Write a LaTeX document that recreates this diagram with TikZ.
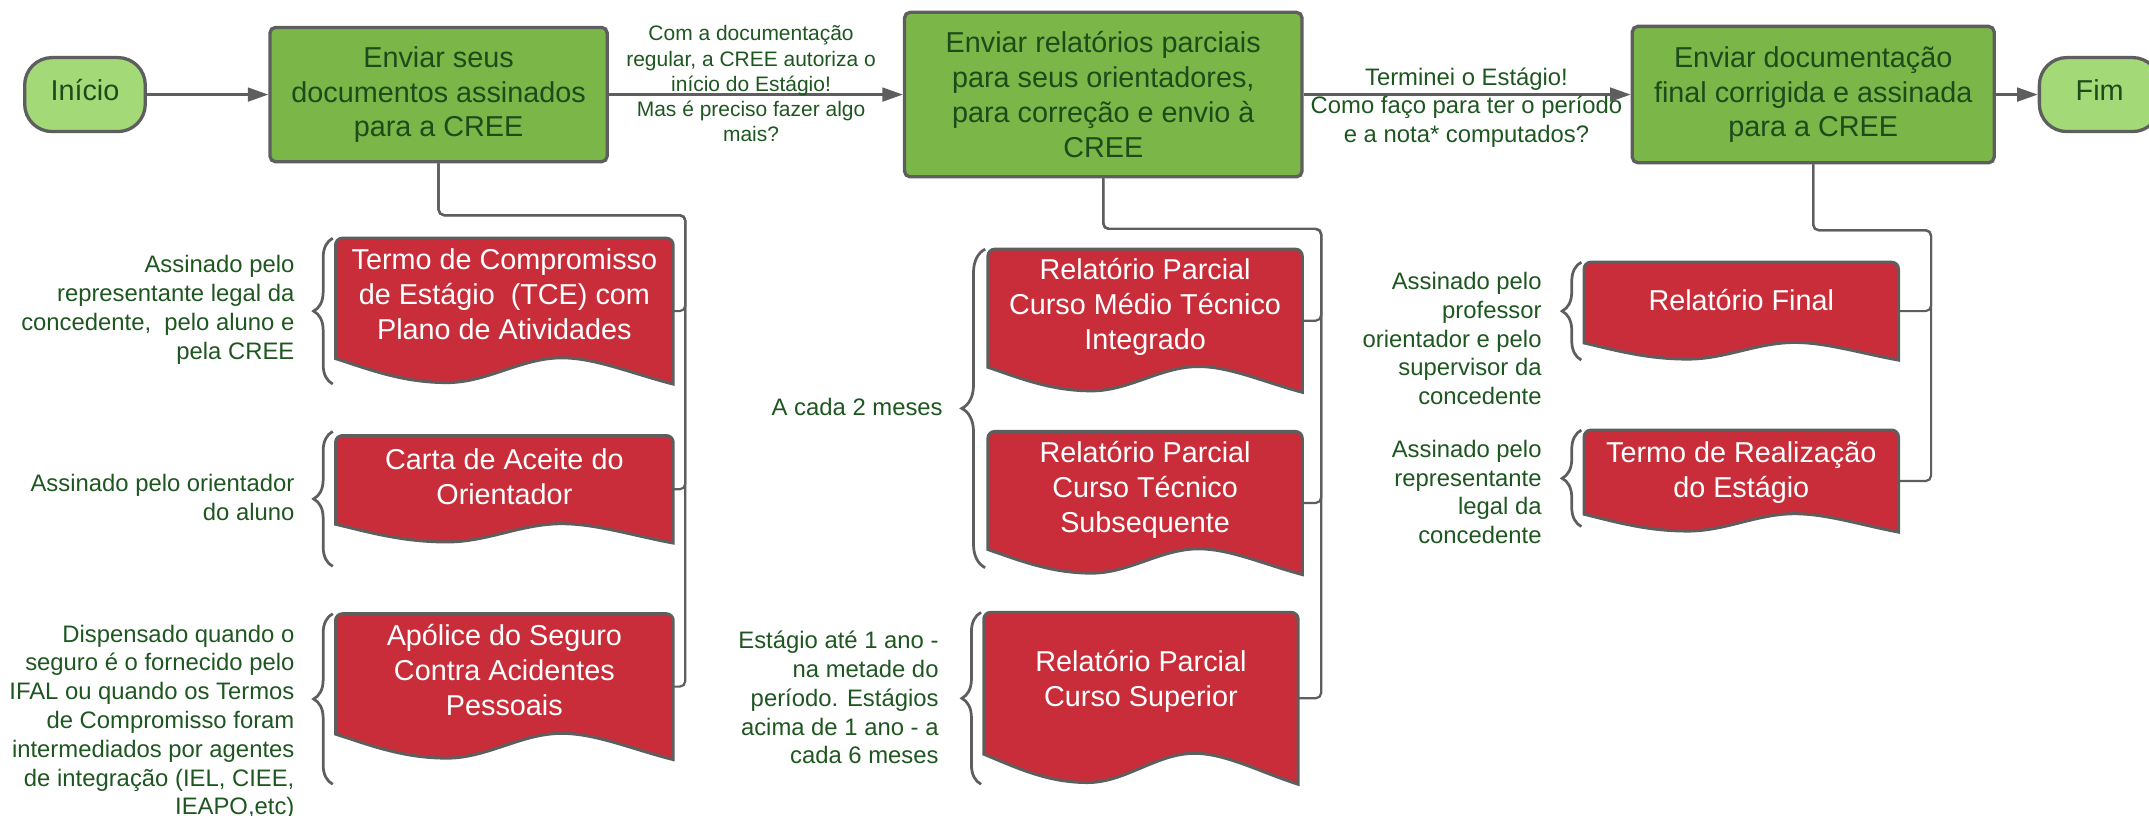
\documentclass[tikz,border=0pt]{standalone}
\usepackage{fontspec}
\setmainfont{Liberation Sans}
\usetikzlibrary{arrows.meta,calc,decorations.pathreplacing,backgrounds}

\definecolor{boxgreen}{HTML}{7AB648}
\definecolor{termgreen}{HTML}{A3D977}
\definecolor{docred}{HTML}{C92D39}
\definecolor{linegray}{HTML}{5E5E5E}
\definecolor{textgreen}{HTML}{1D4B1A}
\definecolor{notegreen}{HTML}{1E5620}

\newcommand{\boxfont}{\fontsize{21}{25.5}\selectfont}
\newcommand{\notefont}{\fontsize{17.4}{21}\selectfont}
\newcommand{\tagfont}{\fontsize{15.3}{18.3}\selectfont}

\tikzset{
  stepbox/.style={draw=linegray, line width=2.4pt, fill=boxgreen, rounded corners=4pt,
    text=textgreen, font=\boxfont, align=center, inner sep=0pt},
  terminal/.style={draw=linegray, line width=2.4pt, fill=termgreen, rounded corners=20pt,
    text=textgreen, font=\boxfont, minimum width=88pt, minimum height=54pt, inner sep=0pt,
    text height=15pt, text depth=6.6pt},
  docbox/.style={inner sep=0pt, text=white, font=\boxfont, align=center, minimum height=#1,
    execute at end node={\rule[-0.23\dimexpr#1pt\relax]{0pt}{0pt}}},
  docline/.style={draw=linegray, line width=2.2pt, fill=docred},
  note/.style={text=notegreen, font=\notefont, align=right, anchor=east, inner sep=0pt},
  tag/.style={text=notegreen, font=\tagfont, align=center, inner sep=0pt},
  flow/.style={draw=linegray, line width=2pt, -{Triangle[length=15pt,width=10pt]}},
  conn/.style={draw=linegray, line width=1.6pt, rounded corners=4pt},
  curly/.style={draw=linegray, line width=2pt, decorate, decoration={brace, amplitude=#1}},
  curly/.default=14pt
}

\begin{document}
\begin{tikzpicture}[x=1pt, y=-1pt]
  \useasboundingbox (0,0) rectangle (1568,595);

  % Main flow along the top
  \node[terminal] (inicio) at (62,69) {Início};
  \node[stepbox, minimum width=246, minimum height=98] (envio) at (320,69)
    {Enviar seus\\documentos assinados\\para a CREE};
  \node[stepbox, minimum width=290, minimum height=120] (relat) at (805,69)
    {Enviar relatórios parciais\\para seus orientadores,\\para correção e envio à\\CREE};
  \node[stepbox, minimum width=264, minimum height=99.5] (final) at (1323,69)
    {Enviar documentação\\final corrigida e assinada\\para a CREE};
  \node[terminal] (fim) at (1532,69) {Fim};

  \draw[flow] (inicio) -- (envio);
  \draw[flow] (envio) -- (relat);
  \draw[flow] (relat) -- (final);
  \draw[flow] (final) -- (fim);

  \node[tag] (taga) at (548,61)
    {Com a documentação\\regular, a CREE autoriza o\\início do Estágio!\\Mas é preciso fazer algo\\mais?};
  \node[tag, font=\notefont] (tagb) at (1070,78.5)
    {Terminei o Estágio!\\Como faço para ter o período\\e a nota* computados?};

  % Documents of each step
  \node[docbox=106, minimum width=246] (tce) at (368,227)
    {Termo de Compromisso\\de Estágio\ \ (TCE) com\\Plano de Atividades};
  \node[docbox=78, minimum width=246] (carta) at (368,357)
    {Carta de Aceite do\\Orientador};
  \node[docbox=106, minimum width=246] (apolice) at (368,501)
    {Apólice do Seguro\\Contra Acidentes\\Pessoais};
  \node[docbox=104, minimum width=229] (rpa) at (835.5,234)
    {Relatório Parcial\\Curso Médio Técnico\\Integrado};
  \node[docbox=104, minimum width=229] (rpb) at (835.5,367)
    {Relatório Parcial\\Curso Técnico\\Subsequente};
  \node[docbox=125, minimum width=229] (rpc) at (832.5,509.5)
    {Relatório Parcial\\Curso Superior};
  \node[docbox=71, minimum width=229] (rfinal) at (1270.5,227)
    {Relatório Final};
  \node[docbox=74, minimum width=229] (trealiz) at (1270.5,351)
    {Termo de Realização\\do Estágio};

  % Document shapes with wavy bottom
  \begin{scope}[on background layer]
    \foreach \d in {tce,carta,apolice,rpa,rpb,rpc,rfinal,trealiz}
      \path[docline] let \p1=(\d.north west), \p2=(\d.south east),
          \n1={\x2-\x1}, \n2={\y1-\y2} in
        (\x1,{\y1-0.825*\n2}) -- (\x1,{\y1-5pt})
        arc[start angle=180, end angle=90, radius=5pt] -- ({\x2-5pt},\y1)
        arc[start angle=90, end angle=0, radius=5pt] -- (\x2,\y2)
        .. controls ({\x1+0.88*\n1},{\y1-0.93*\n2}) and ({\x1+0.77*\n1},{\y1-0.82*\n2})
        .. ({\x1+0.67*\n1},{\y1-0.82*\n2})
        .. controls ({\x1+0.55*\n1},{\y1-0.82*\n2}) and ({\x1+0.45*\n1},{\y1-0.99*\n2})
        .. ({\x1+0.33*\n1},{\y1-0.99*\n2})
        .. controls ({\x1+0.2*\n1},{\y1-0.99*\n2}) and ({\x1+0.1*\n1},{\y1-0.9*\n2})
        .. (\x1,{\y1-0.825*\n2}) -- cycle;
  \end{scope}

  % Connectors from the steps to their documents
  \coordinate (busa) at (500,157);
  \coordinate (busb) at (964,167);
  \coordinate (busc) at (1409,168);
  \foreach \d in {tce,carta,apolice}
    \draw[conn] (envio.south) |- (busa) |- (\d.east);
  \foreach \d in {rpa,rpb,rpc}
    \draw[conn] (relat.south) |- (busb) |- (\d.east);
  \foreach \d in {rfinal,trealiz}
    \draw[conn] (final.south) |- (busc) |- (\d.east);

  % Braces and notes
  \draw[curly] ($(tce.south west)+(-2,0)$) -- ($(tce.north west)+(-2,0)$);
  \draw[curly] ($(carta.south west)+(-2,17)$) -- ($(carta.north west)+(-2,-3)$);
  \draw[curly] ($(apolice.south west)+(-2,18)$) -- ($(apolice.north west)+(-2,0)$);
  \draw[curly=17pt] ($(rpb.south west)+(-2,-5)$) -- ($(rpa.north west)+(-2,0)$);
  \draw[curly] ($(rpc.south west)+(-2,0)$) -- ($(rpc.north west)+(-2,0)$);
  \draw[curly] ($(rfinal.south west)+(-2,0)$) -- ($(rfinal.north west)+(-2,0)$);
  \draw[curly] ($(trealiz.south west)+(-2,-4)$) -- ($(trealiz.north west)+(-2,0)$);

  \node[note] (ntce) at (215,226)
    {Assinado pelo\\representante legal da\\concedente,\ \ pelo aluno e\\pela CREE};
  \node[note] (ncarta) at (215,363)
    {Assinado pelo orientador\\do aluno};
  \node[note] (napolice) at (215,527)
    {Dispensado quando o\\seguro é o fornecido pelo\\IFAL ou quando os Termos\\de Compromisso foram\\intermediados por agentes\\de integração (IEL, CIEE,\\IEAPO,etc)};
  \node[note] (nbimestre) at (688,297) {A cada 2 meses};
  \node[note] (nsuperior) at (685,509)
    {Estágio até 1 ano -\\na metade do\\período. Estágios\\acima de 1 ano - a\\cada 6 meses};
  \node[note] (nfinal) at (1125,247)
    {Assinado pelo\\professor\\orientador e pelo\\supervisor da\\concedente};
  \node[note] (nrealiz) at (1125,359)
    {Assinado pelo\\representante\\legal da\\concedente};
\end{tikzpicture}
\end{document}
